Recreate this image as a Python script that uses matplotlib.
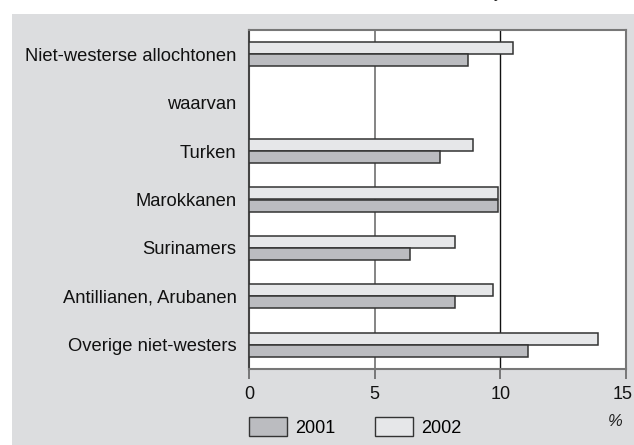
import matplotlib.pyplot as plt
import matplotlib.transforms as mtransforms
from matplotlib.patches import Rectangle, Patch

plt.rcParams['font.family'] = ['Liberation Sans', 'DejaVu Sans']

categories = ["Niet-westerse allochtonen", "waarvan", "Turken", "Marokkanen",
              "Surinamers", "Antillianen, Arubanen", "Overige niet-westers"]
v2001 = [8.7, None, 7.6, 9.9, 6.4, 8.2, 11.1]
v2002 = [10.5, None, 8.9, 9.9, 8.2, 9.7, 13.9]
xticks = [0, 5, 10, 15]

c2001 = '#bbbcc0'
c2002 = '#e6e7e9'
bg = '#dcdddf'
edge = '#333333'

fig = plt.figure(figsize=(6.34, 4.45), dpi=100)
fig.patch.set_facecolor('white')
fig.add_artist(Rectangle((12 / 634, 0), 1, (445 - 14) / 445, transform=fig.transFigure,
                         facecolor=bg, edgecolor='none', zorder=-10))

# cut-off fragment of the title above the panel
fig.text(498 / 634, 1 + 2 / 445, 'y', fontsize=12, ha='center', va='baseline', color='#222222')

ax = fig.add_axes([249 / 634, (445 - 369) / 445, (626 - 249) / 634, (369 - 30) / 445])
ax.set_facecolor('white')

h = 0.25
for i in range(len(categories)):
    if v2002[i] is not None:
        ax.barh(i - h / 2, v2002[i], height=h, color=c2002, edgecolor=edge, linewidth=1.1, zorder=3)
    if v2001[i] is not None:
        ax.barh(i + h / 2, v2001[i], height=h, color=c2001, edgecolor=edge, linewidth=1.1, zorder=3)

ax.axvline(5, color='#707070', linewidth=1.2, zorder=1)
ax.axvline(10, color='#111111', linewidth=1.0, zorder=1)

ax.set_xlim(0, 15)
ax.set_ylim(6.5, -0.5)
ax.set_yticks(range(len(categories)))
ax.set_yticklabels(categories, fontsize=13.2, color='#111111')
ax.tick_params(axis='y', length=0, pad=9)
ax.set_xticks(xticks)
ax.set_xticklabels([str(x) for x in xticks], fontsize=13, color='#111111')
ax.tick_params(axis='x', length=7, width=1.2, color='#666666', pad=5)

# nudge the last tick label so it stays inside the image
last = ax.get_xticklabels()[-1]
last.set_transform(last.get_transform() + mtransforms.ScaledTranslation(-2.5 / 72, 0, fig.dpi_scale_trans))

for s in ['top', 'right', 'bottom']:
    ax.spines[s].set_color('#777777')
    ax.spines[s].set_linewidth(1.5)
ax.spines['left'].set_color('#444444')
ax.spines['left'].set_linewidth(1.5)

fig.text(615 / 634, (445 - 422) / 445, '%', fontsize=12, ha='center', va='center',
         style='italic', color='#222222')

handles = [Patch(facecolor=c2001, edgecolor=edge, linewidth=1.0, label='2001'),
           Patch(facecolor=c2002, edgecolor=edge, linewidth=1.0, label='2002')]
fig.legend(handles=handles, loc='center left', bbox_to_anchor=(249 / 634, (445 - 427) / 445),
           ncol=2, frameon=False, fontsize=13, handlelength=2.1, handleheight=1.2,
           columnspacing=2.2, handletextpad=0.45, borderaxespad=0, borderpad=0)

fig.savefig('out.png', dpi=100, facecolor=fig.get_facecolor())
